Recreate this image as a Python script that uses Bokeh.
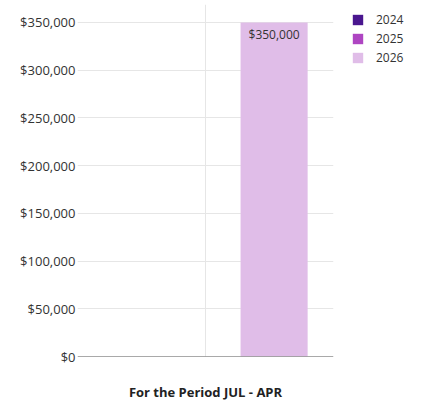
from bokeh.plotting import figure
from bokeh.models import FactorRange, ColumnDataSource, NumeralTickFormatter, FixedTicker, Legend, LegendItem, Range1d, Span, Title
from bokeh.transform import dodge
from bokeh.core.properties import value
from bokeh.embed import file_html
from bokeh.resources import INLINE

category = ["JUL - APR"]
years = ["2024", "2025", "2026"]
values_2024 = [0]
values_2025 = [0]
values_2026 = [350000]
colors = ["#4a168f", "#ae45c2", "#e0bde8"]
y_ticks = [0, 50000, 100000, 150000, 200000, 250000, 300000, 350000]
title_text = "For the Period JUL - APR"

FONT = "Open Sans"

p = figure(x_range=FactorRange(factors=category), y_range=Range1d(0, 368860),
           frame_width=256, frame_height=352, output_backend="svg", toolbar_location=None,
           min_border_left=77, min_border_right=80, min_border_top=4, min_border_bottom=0)
p.x_range.range_padding = 0
p.outline_line_color = None

src = ColumnDataSource(dict(cat=category, v2024=values_2024, v2025=values_2025, v2026=values_2026,
                            lbl2026=["${:,.0f}".format(v) for v in values_2026]))

offsets = [-0.268, 0.0, 0.268]
fields = ["v2024", "v2025", "v2026"]
items = []
for yr, off, fld, col in zip(years, offsets, fields, colors):
    r = p.vbar(x=dodge("cat", off, range=p.x_range), top=fld, width=0.262, source=src,
               fill_color=col, line_color=None)
    items.append(LegendItem(label=yr, renderers=[r]))

p.text(x=dodge("cat", 0.268, range=p.x_range), y="v2026", text="lbl2026", source=src,
       text_font=value(FONT), text_font_size="12px", text_color="#333333",
       text_align="center", text_baseline="top", y_offset=4)

legend = Legend(items=items, location=(18, 290), glyph_width=13, glyph_height=13,
                label_text_font=FONT, label_text_font_size="12px", label_text_color="#333333",
                spacing=2, padding=0, margin=0, label_standoff=12, border_line_color=None,
                background_fill_alpha=0)
p.add_layout(legend, "right")

p.yaxis.ticker = FixedTicker(ticks=y_ticks)
p.yaxis.formatter = NumeralTickFormatter(format="$0,0")
p.yaxis.axis_line_color = None
p.yaxis.major_tick_line_color = None
p.yaxis.minor_tick_line_color = None
p.yaxis.major_tick_out = 0
p.yaxis.major_tick_in = 0
p.yaxis.minor_tick_out = 0
p.yaxis.major_label_standoff = 2
p.yaxis.major_label_text_font = FONT
p.yaxis.major_label_text_font_size = "13px"
p.yaxis.major_label_text_color = "#333333"

p.xaxis.visible = False
p.add_layout(Span(location=0, dimension="width", line_color="#555555", line_width=1))

t = Title(text=title_text, align="center", text_font=FONT, text_font_size="13px",
          text_font_style="bold", text_color="#222222", standoff=49)
p.add_layout(t, "below")

p.ygrid.grid_line_color = "#e6e6e6"
p.xgrid.grid_line_color = "#e6e6e6"

open("out.html", "w").write(file_html(p, INLINE))
